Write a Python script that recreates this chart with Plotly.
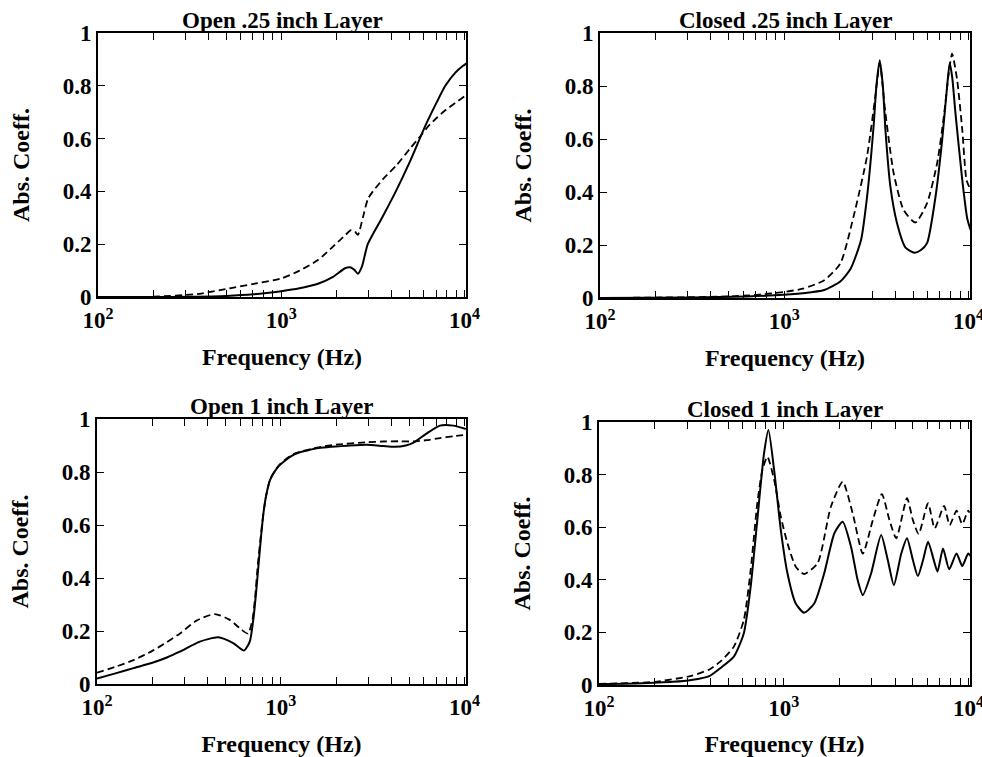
import plotly.graph_objects as go

# ---------------- data (frequency in Hz, absorption coefficient) ----------------
titles = ["Open .25 inch Layer", "Closed .25 inch Layer", "Open 1 inch Layer", "Closed 1 inch Layer"]

# Panel 1: Open .25 inch Layer
p1_solid_f = [100, 200, 316, 501, 708, 1000, 1259, 1585, 1905, 2239, 2399, 2512, 2618, 2754, 2965,
              3548, 4217, 5012, 6124, 7079, 7852, 8913, 9772, 10257]
p1_solid_v = [0.0, 0.0, 0.001, 0.004, 0.01, 0.022, 0.033, 0.05, 0.075, 0.11, 0.112, 0.102, 0.088, 0.115, 0.2,
              0.30, 0.40, 0.51, 0.65, 0.74, 0.80, 0.85, 0.875, 0.885]
p1_dash_f = [100, 200, 357, 541, 708, 1000, 1259, 1585, 1950, 2239, 2399, 2512, 2618, 2786, 2965, 3162,
             3631, 4266, 5012, 5754, 6310, 7079, 7943, 8913, 10000, 10257]
p1_dash_v = [0.0, 0.001, 0.012, 0.035, 0.05, 0.07, 0.1, 0.14, 0.196, 0.235, 0.253, 0.25, 0.235, 0.30, 0.37, 0.40,
             0.45, 0.50, 0.56, 0.61, 0.645, 0.68, 0.71, 0.735, 0.76, 0.765]

# Panel 2: Closed .25 inch Layer
p2_solid_f = [100, 316, 631, 891, 1259, 1648, 2014, 2291, 2612, 2812, 3055, 3162, 3296, 3428, 3540, 3767,
              4093, 4550, 5093, 5495, 5957, 6622, 7194, 7656, 7907, 8166, 8492, 9247, 9840, 10257]
p2_solid_v = [0.0, 0.002, 0.006, 0.01, 0.018, 0.03, 0.062, 0.11, 0.22, 0.38, 0.65, 0.80, 0.897, 0.80, 0.635, 0.42,
              0.282, 0.19, 0.171, 0.18, 0.207, 0.383, 0.597, 0.80, 0.887, 0.83, 0.698, 0.446, 0.30, 0.257]
p2_dash_f = [100, 316, 501, 708, 1000, 1259, 1648, 2014, 2377, 2812, 3119, 3296, 3540, 3926, 4446, 5152,
             5957, 6761, 7345, 7816, 8147, 8670, 9247, 9750, 10257]
p2_dash_v = [0.0, 0.003, 0.006, 0.012, 0.023, 0.035, 0.067, 0.13, 0.307, 0.534, 0.76, 0.887, 0.698, 0.47, 0.332,
             0.285, 0.358, 0.51, 0.685, 0.85, 0.922, 0.824, 0.635, 0.446, 0.408]

# Panel 3: Open 1 inch Layer
p3_solid_f = [100, 126, 158, 200, 240, 282, 363, 456, 551, 631, 678, 708, 733, 757, 782, 805, 832, 875, 933,
              991, 1172, 1570, 2382, 2931, 3614, 4169, 4786, 5248, 6209, 7345, 8670, 10162]
p3_solid_v = [0.021, 0.04, 0.06, 0.08, 0.1, 0.122, 0.16, 0.176, 0.154, 0.126, 0.16, 0.24, 0.34, 0.45, 0.56, 0.645,
              0.71, 0.77, 0.805, 0.827, 0.865, 0.89, 0.9, 0.903, 0.898, 0.895, 0.9, 0.91, 0.945, 0.975, 0.975, 0.962]
p3_dash_f = [100, 126, 158, 200, 240, 282, 348, 438, 528, 611, 664, 701, 723, 750, 782, 805, 832, 875, 933,
             991, 1172, 1570, 1995, 2931, 3614, 4457, 5248, 6209, 7345, 8670, 10162]
p3_dash_v = [0.043, 0.065, 0.09, 0.125, 0.158, 0.19, 0.239, 0.264, 0.242, 0.205, 0.19, 0.242, 0.317, 0.45, 0.57,
             0.645, 0.71, 0.772, 0.807, 0.83, 0.868, 0.892, 0.903, 0.912, 0.915, 0.916, 0.915, 0.92, 0.928, 0.935, 0.94]

# Panel 4: Closed 1 inch Layer
p4_solid_f = [100, 158, 251, 316, 398, 455, 537, 608, 662, 719, 782, 826, 887, 964, 1047, 1161, 1288, 1462, 1656,
              1879, 2084, 2312, 2512, 2679, 2972, 3365, 3656, 3945, 4325, 4645, 5000, 5321, 5675, 6039, 6486,
              6792, 7278, 7852, 8610, 9247, 9954, 10257]
p4_solid_v = [0.003, 0.006, 0.012, 0.019, 0.035, 0.065, 0.108, 0.197, 0.374, 0.627, 0.881, 0.97, 0.817, 0.589,
              0.425, 0.31, 0.275, 0.31, 0.425, 0.577, 0.621, 0.526, 0.399, 0.342, 0.425, 0.57, 0.475, 0.38, 0.5,
              0.558, 0.475, 0.414, 0.475, 0.545, 0.475, 0.431, 0.519, 0.44, 0.5, 0.452, 0.5, 0.49]
p4_dash_f = [100, 200, 316, 398, 455, 537, 608, 662, 719, 766, 815, 887, 964, 1047, 1161, 1288, 1524, 1799, 2084,
             2360, 2679, 3034, 3396, 3733, 4064, 4645, 5000, 5370, 6039, 6561, 7379, 7907, 8610, 9247, 9954, 10116]
p4_dash_v = [0.004, 0.012, 0.035, 0.06, 0.09, 0.146, 0.247, 0.437, 0.691, 0.817, 0.868, 0.78, 0.64, 0.539, 0.45,
             0.422, 0.463, 0.678, 0.773, 0.653, 0.5, 0.627, 0.726, 0.627, 0.558, 0.71, 0.627, 0.574, 0.691, 0.596,
             0.681, 0.608, 0.663, 0.612, 0.663, 0.655]

x_tick_vals = [100, 200, 300, 400, 500, 600, 700, 800, 900, 1000, 2000, 3000, 4000, 5000, 6000, 7000, 8000, 9000, 10000]
x_tick_text = ["10<sup>2</sup>", "", "", "", "", "", "", "", "", "10<sup>3</sup>", "", "", "", "", "", "", "", "", "10<sup>4</sup>"]
y_tick_vals = [0, 0.2, 0.4, 0.6, 0.8, 1.0]
y_tick_text = ["0", "0.2", "0.4", "0.6", "0.8", "1"]

# ---------------- figure ----------------
W, H = 982, 757
FONT = "Liberation Serif"
panels = [
    (p1_solid_f, p1_solid_v, p1_dash_f, p1_dash_v),
    (p2_solid_f, p2_solid_v, p2_dash_f, p2_dash_v),
    (p3_solid_f, p3_solid_v, p3_dash_f, p3_dash_v),
    (p4_solid_f, p4_solid_v, p4_dash_f, p4_dash_v),
]
# plot-area boxes in pixels (left, right, top, bottom)
boxes = [(98, 466, 33, 297), (600, 970, 33, 298), (97, 466, 419, 684), (599, 970, 422, 685)]

fig = go.Figure()
layout = dict(width=W, height=H, margin=dict(l=0, r=0, t=0, b=0),
              paper_bgcolor="white", plot_bgcolor="white", showlegend=False,
              font=dict(family=FONT, size=22, color="black", weight="bold"))
annotations = []
for i, (sf, sv, df, dv) in enumerate(panels):
    n = "" if i == 0 else str(i + 1)
    xa, ya = "x" + n, "y" + n
    fig.add_trace(go.Scatter(x=df, y=dv, mode="lines", xaxis=xa, yaxis=ya,
                             line=dict(color="black", width=1.8, dash="7px,4px", shape="spline", smoothing=0.6)))
    fig.add_trace(go.Scatter(x=sf, y=sv, mode="lines", xaxis=xa, yaxis=ya,
                             line=dict(color="black", width=2, shape="spline", smoothing=0.6)))
    l, r, t, b = boxes[i]
    xd = [l / W, r / W]
    yd = [1 - b / H, 1 - t / H]
    layout["xaxis" + n] = dict(
        type="log", range=[2, 4.008], domain=xd, anchor=ya,
        tickmode="array", tickvals=x_tick_vals, ticktext=x_tick_text,
        ticks="inside", ticklen=7, tickwidth=1.3, tickcolor="black",
        showline=True, linecolor="black", linewidth=1.6, mirror="allticks",
        showgrid=False, zeroline=False, tickfont=dict(size=23, family=FONT, weight="bold"),
        ticklabeloverflow="allow", ticklabelstandoff=2,
        title=dict(text="Frequency (Hz)", font=dict(size=24, family=FONT, weight="bold"), standoff=16),
        automargin=False)
    layout["yaxis" + n] = dict(
        range=[0, 1], domain=yd, anchor=xa,
        tickmode="array", tickvals=y_tick_vals, ticktext=y_tick_text,
        ticks="inside", ticklen=7, tickwidth=1.3, tickcolor="black",
        showline=True, linecolor="black", linewidth=1.6, mirror="allticks",
        showgrid=False, zeroline=False, tickfont=dict(size=23, family=FONT, weight="bold"),
        ticklabeloverflow="allow",
        title=dict(text="Abs. Coeff.", font=dict(size=24, family=FONT, weight="bold"), standoff=26),
        automargin=False)
    annotations.append(dict(text=titles[i], xref="paper", yref="paper",
                            x=(xd[0] + xd[1]) / 2, y=yd[1], xanchor="center", yanchor="bottom",
                            yshift=-2, showarrow=False, font=dict(size=23, family=FONT, weight="bold")))
layout["annotations"] = annotations
fig.update_layout(**layout)
fig.write_html("out.html")
